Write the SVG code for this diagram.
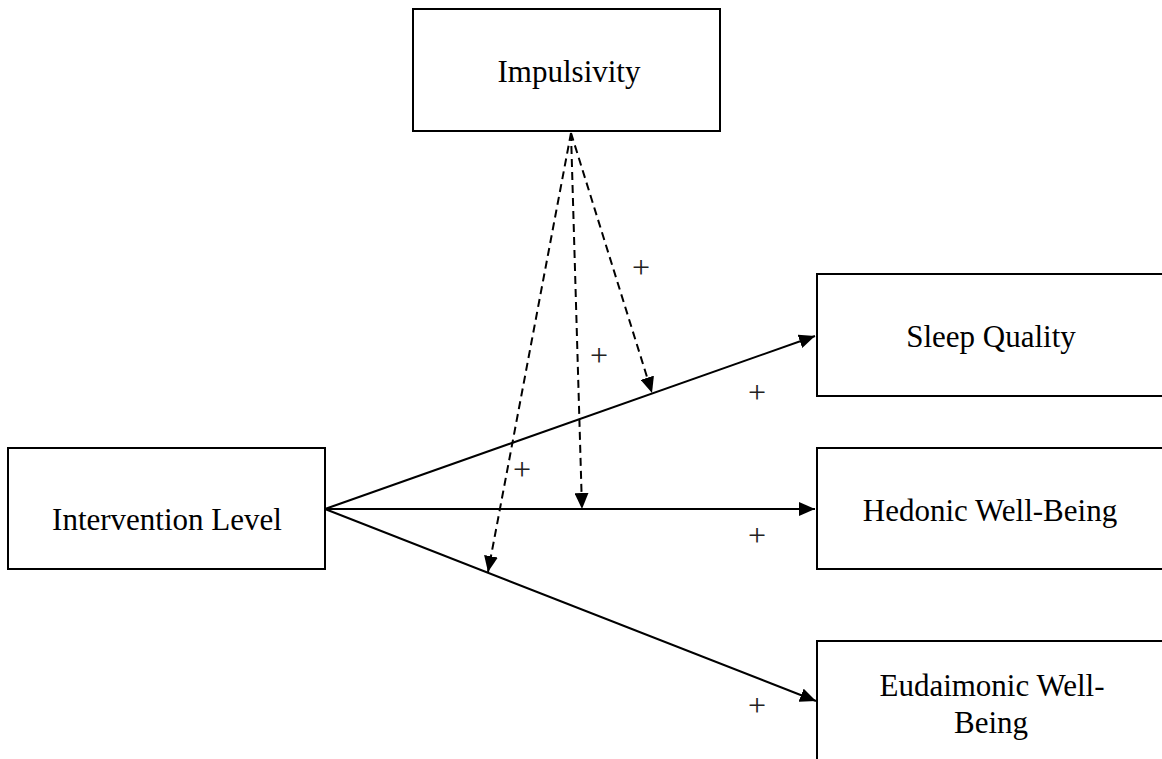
<svg xmlns="http://www.w3.org/2000/svg" width="1162" height="759" viewBox="0 0 1162 759">
<style>
.box{fill:#fff;stroke:#000;stroke-width:2}
.lbl{font-family:"Liberation Serif","Times New Roman",serif;font-size:31px;fill:#000;text-anchor:middle}
.pl{font-family:"Liberation Serif","Times New Roman",serif;font-size:32px;fill:#222;text-anchor:middle}
.solid{stroke:#000;stroke-width:2;fill:none}
.dash{stroke:#000;stroke-width:2;fill:none;stroke-dasharray:8,5}
</style>
<defs>
<marker id="ahb" markerWidth="16" markerHeight="14" refX="16" refY="7" orient="auto" markerUnits="userSpaceOnUse" viewBox="0 0 16 14">
<path d="M0,0 L16,7 L0,14 Z" fill="#000"/>
</marker>
</defs>
<g id="impulsivity"><rect class="box" x="413" y="9" width="307" height="122"/><text class="lbl" x="569" y="82">Impulsivity</text></g>
<g id="intervention"><rect class="box" x="8" y="448" width="317" height="121"/><text class="lbl" x="167" y="530">Intervention Level</text></g>
<g id="sleep"><rect class="box" x="817" y="274" width="360" height="122"/><text class="lbl" x="991" y="347">Sleep Quality</text></g>
<g id="hedonic"><rect class="box" x="817" y="448" width="360" height="121"/><text class="lbl" x="990" y="521">Hedonic Well-Being</text></g>
<g id="eudaimonic"><rect class="box" x="817" y="641" width="360" height="140"/><text class="lbl" x="992" y="696">Eudaimonic Well-</text><text class="lbl" x="991" y="733">Being</text></g>
<g id="connectors">
<line class="solid" x1="325" y1="509" x2="815" y2="336" marker-end="url(#ahb)"/>
<line class="solid" x1="325" y1="509" x2="815" y2="509" marker-end="url(#ahb)"/>
<line class="solid" x1="325" y1="509" x2="816" y2="701" marker-end="url(#ahb)"/>
<line class="dash" x1="571" y1="133" x2="652" y2="393" marker-end="url(#ahb)"/>
<line class="dash" x1="571" y1="133" x2="582" y2="509" marker-end="url(#ahb)"/>
<line class="dash" x1="571" y1="133" x2="488" y2="572" marker-end="url(#ahb)"/>
</g>
<g id="labels">
<text class="pl" x="641" y="278">+</text>
<text class="pl" x="599" y="366">+</text>
<text class="pl" x="522" y="480">+</text>
<text class="pl" x="757" y="403">+</text>
<text class="pl" x="757" y="546">+</text>
<text class="pl" x="757" y="716">+</text>
</g>
</svg>
